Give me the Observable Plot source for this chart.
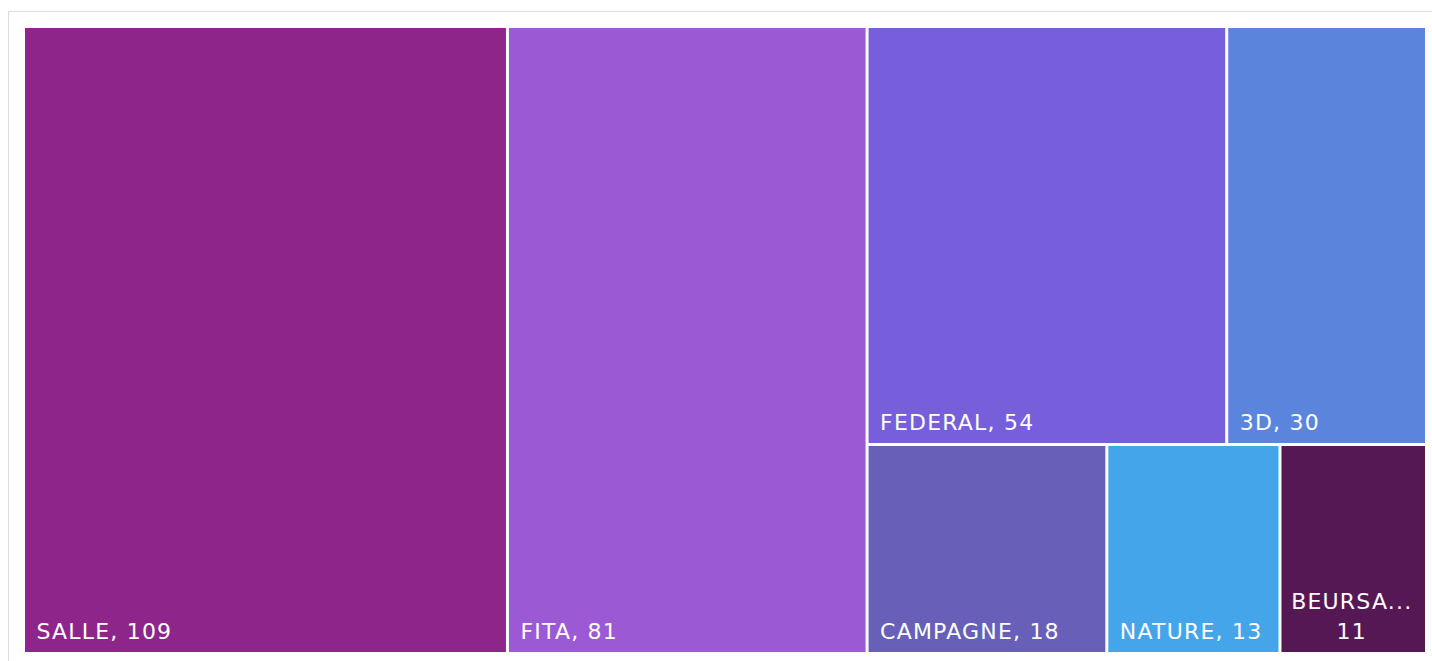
<!DOCTYPE html>
<html>
<head>
<meta charset="utf-8">
<script src="https://cdn.jsdelivr.net/npm/d3@7"></script>
<script src="https://cdn.jsdelivr.net/npm/@observablehq/plot@0.6"></script>
<style>
  html, body { margin: 0; padding: 0; background: #fff; overflow: hidden; }
  #frame { position: absolute; left: 8px; top: 11px; width: 1500px; height: 700px; border: 1px solid #dcdcdc; box-sizing: border-box; }
  #chart { position: absolute; left: 0; top: 0; }
  #chart svg { font-family: "DejaVu Sans", Verdana, sans-serif; }
  #chart svg text { letter-spacing: 1.2px; }
</style>
</head>
<body>
<div id="frame"></div>
<div id="chart"></div>
<script>
// Data
const names  = ["SALLE", "FITA", "FEDERAL", "3D", "CAMPAGNE", "NATURE", "BEURSA..."];
const values = [109, 81, 54, 30, 18, 13, 11];
const colors = ["#8e258a", "#9b59d4", "#775edb", "#5b84dc", "#6860b8", "#45a5eb", "#561855"];
// grouping of the layout: top-level columns, then rows inside the last column
const groups = [[0], [1], [[2, 3], [4, 5, 6]]];

const W = 1400, H = 624;

function build(g) {
  if (typeof g === "number") return {name: names[g], value: values[g], color: colors[g], idx: g};
  if (Array.isArray(g) && g.length === 1 && typeof g[0] === "number") return build(g[0]);
  return {children: g.map(build)};
}
const rootData = {children: groups.map(build)};
const root = d3.hierarchy(rootData).sum(d => d.value || 0);
d3.treemap().tile(d3.treemapSliceDice).size([W, H]).paddingInner(3).round(false)(root);
const leaves = root.leaves().map(n => ({...n.data, x0: n.x0, x1: n.x1, y0: n.y0, y1: n.y1}));

const narrow = d => (d.x1 - d.x0) < 160;
const wide = leaves.filter(d => !narrow(d));
const small = leaves.filter(narrow);

const chart = Plot.plot({
  width: 1432,
  height: 661,
  marginLeft: 25,
  marginRight: 7,
  marginTop: 28,
  marginBottom: 9,
  x: {domain: [0, W], axis: null},
  y: {domain: [0, H], reverse: true, axis: null},
  style: {background: "transparent", overflow: "visible"},
  marks: [
    Plot.rect(leaves, {x1: "x0", x2: "x1", y1: "y0", y2: "y1", fill: d => d.color}),
    Plot.text(wide, {
      x: "x0", y: "y1", text: d => `${d.name}, ${d.value}`,
      textAnchor: "start", lineAnchor: "bottom", dx: 11, dy: -14,
      fill: "white", fontSize: 22
    }),
    Plot.text(small, {
      x: d => (d.x0 + d.x1) / 2, y: "y1", text: d => `${d.name}\n${d.value}`,
      textAnchor: "middle", lineAnchor: "bottom", dx: -2, dy: -14, lineHeight: 1.35,
      fill: "white", fontSize: 22
    })
  ]
});
document.getElementById("chart").appendChild(chart);
</script>
</body>
</html>
